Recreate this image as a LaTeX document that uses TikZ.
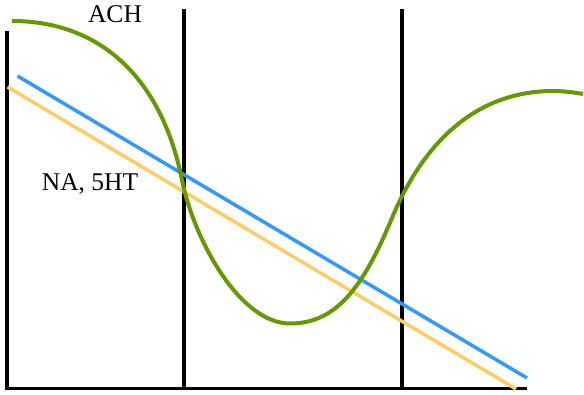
\documentclass[tikz,border=0pt]{standalone}
\usepackage{fontspec}
\setmainfont{Liberation Serif}
\definecolor{curvegreen}{HTML}{669900}
\definecolor{lineblue}{HTML}{3399FF}
\definecolor{lineorange}{HTML}{FFCC66}
\begin{document}
\begin{tikzpicture}[x=1pt,y=-1pt,
  axis/.style={line width=3.3pt,black},
  lbl/.style={anchor=base,inner sep=0pt,font=\fontsize{25.5}{30}\selectfont}]
\useasboundingbox (0,0) rectangle (584,394);
% axes and dividers
\coordinate (la) at (7,31);
\coordinate (o) at (7,388.5);
\coordinate (be) at (527,388.5);
\coordinate (m1t) at (184,9);
\coordinate (m1b) at (184,388.5);
\coordinate (m2t) at (402,9);
\coordinate (m2b) at (402,388.5);
\draw[axis] (la) -- (o) -- (be);
\draw[axis] (m1t) -- (m1b);
\draw[axis] (m2t) -- (m2b);
% straight lines
\coordinate (os) at (7.5,87);
\coordinate (oe) at (516,389);
\draw[lineorange,line width=3.5pt] (os) -- (oe);
\coordinate (bs) at (17.5,76);
\coordinate (bend) at (527,378);
\draw[lineblue,line width=3.5pt] (bs) -- (bend);
% green curve
\coordinate (g0) at (12,21);
\coordinate (g1) at (182,180);
\coordinate (g2) at (290,323.5);
\coordinate (g3) at (392,218);
\coordinate (g4) at (553,91);
\coordinate (g5) at (583,94);
\draw[curvegreen,line width=4pt]
  (g0) .. controls (102,21) and (162,80) .. (g1)
       .. controls (194,240) and (240,323.5) .. (g2)
       .. controls (335,323.5) and (362,290) .. (g3)
       .. controls (427,134) and (483,91) .. (g4)
       .. controls (563,91) and (575,92.5) .. (g5);
% labels
\node[lbl] (ach) at (115,22) {ACH};
\node[lbl] (na) at (90,190) {NA, 5HT};
\end{tikzpicture}
\end{document}
